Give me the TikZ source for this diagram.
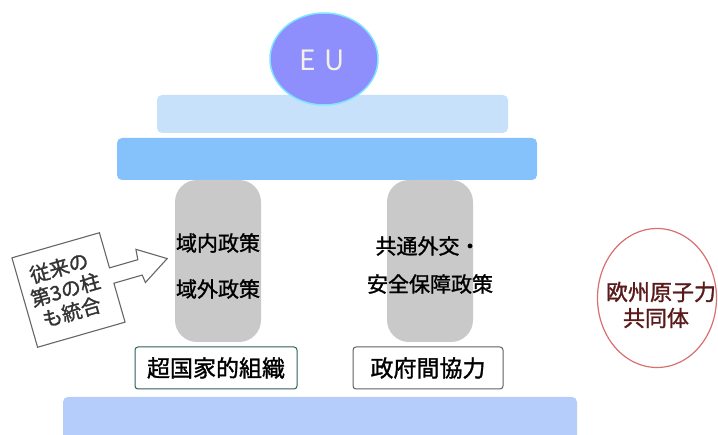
\documentclass[tikz,border=0pt]{standalone}
\usepackage{fontspec}
\newfontfamily\jp[FakeBold=1.3]{Noto Sans CJK JP}
\newfontfamily\jpthin{Noto Sans CJK JP}
\usetikzlibrary{shapes.geometric}
\definecolor{topbarc}{HTML}{C8E1FB}
\definecolor{midbarc}{HTML}{85C1FB}
\definecolor{botbarc}{HTML}{B5CDFA}
\definecolor{pillarc}{HTML}{C9C9C9}
\definecolor{eufill}{HTML}{8E8EFC}
\definecolor{euedge}{HTML}{7FE5FF}
\definecolor{eutext}{HTML}{F4F2E6}
\definecolor{euratomedge}{HTML}{D87070}
\definecolor{euratomtext}{HTML}{5A1A1A}
\definecolor{calloutedge}{HTML}{666666}
\definecolor{labeledgeA}{HTML}{2F5F5A}
\definecolor{labeledgeB}{HTML}{606060}
\begin{document}
\begin{tikzpicture}[x=1pt,y=-1pt,
  bar/.style={rectangle, rounded corners=5pt, inner sep=0pt},
  pillar/.style={rectangle, rounded corners=22pt, fill=pillarc, inner sep=0pt, minimum width=86pt, minimum height=162pt},
  pillartext/.style={font=\jp\fontsize{21pt}{24pt}\selectfont, inner sep=0pt, text=black},
  labelbox/.style={rectangle, rounded corners=3pt, fill=white, line width=1pt, inner sep=0pt, minimum height=42pt, font=\jp\fontsize{23pt}{26pt}\selectfont},
  euratomtext/.style={font=\jp\fontsize{22pt}{26pt}\selectfont, text=euratomtext, inner sep=0pt}
]
\useasboundingbox (0,0) rectangle (718,435);
% bars
\node[bar, fill=botbarc, minimum width=514pt, minimum height=44pt] (basebar) at (320,419) {};
\node[bar, fill=topbarc, minimum width=351pt, minimum height=38pt] (topbar) at (332.5,114) {};
\node[bar, fill=midbarc, minimum width=420pt, minimum height=42pt] (midbar) at (327,159) {};
% EU
\node[ellipse, fill=eufill, draw=euedge, line width=1.5pt, minimum width=108pt, minimum height=92pt, inner sep=0pt] (eu) at (324,59) {};
\node[font=\jpthin\fontsize{28pt}{30pt}\selectfont, text=eutext, inner sep=0pt] (eutxt) at (322,60) {E\hspace{8pt}U};
% pillars
\node[pillar] (p1) at (218,261) {};
\node[pillar] (p2) at (430,261) {};
\node[pillartext] (t1a) at (218,243) {域内政策};
\node[pillartext] (t1b) at (218,289) {域外政策};
\node[pillartext] (t2a) at (428,246) {共通外交・};
\node[pillartext] (t2b) at (430,284) {安全保障政策};
% labels
\node[labelbox, draw=labeledgeA, minimum width=162pt] (l1) at (216,368) {超国家的組織};
\node[labelbox, draw=labeledgeB, minimum width=150pt] (l2) at (428,368) {政府間協力};
% Euratom
\node[ellipse, draw=euratomedge, line width=1.2pt, minimum width=119pt, minimum height=139pt, inner sep=0pt] (euratom) at (657,298) {};
\node[euratomtext] (euratom1) at (661,292) {欧州原子力};
\node[euratomtext] (euratom2) at (656,318) {共同体};
% callout
\begin{scope}[shift={(68.5,290)}, rotate=16]
  \draw[fill=white, draw=calloutedge, line width=1.1pt, line join=miter]
    (-45.5,-46.5) -- (45.5,-46.5) -- (45.5,-10) -- (75,-10) -- (76,-20.5) -- (103.5,-3) -- (76,14) -- (75,6) -- (45.5,6) -- (45.5,46.5) -- (-45.5,46.5) -- cycle;
  \node[font=\jp\fontsize{20pt}{23pt}\selectfont, text=black!80, align=center, inner sep=0pt, rotate=16] (callouttxt) at (-3,-1) {従来の\\第3の柱\\も統合};
\end{scope}
\end{tikzpicture}
\end{document}
